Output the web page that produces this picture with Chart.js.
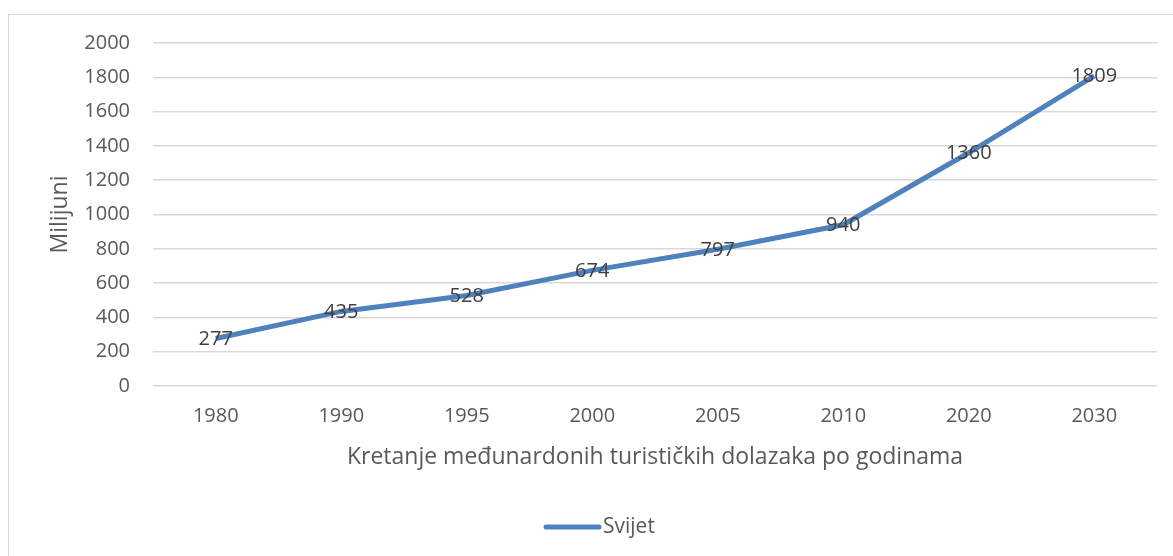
<!DOCTYPE html>
<html>
<head>
<meta charset="utf-8">
<script src="https://cdn.jsdelivr.net/npm/chart.js@4"></script>
<style>
    html, body { margin: 0; padding: 0; background: #fff; overflow: hidden; }
    #wrap { position: relative; width: 1173px; height: 556px; }
    #frame { position: absolute; left: 8px; top: 14px; width: 1200px; height: 600px; border: 1.5px solid #d9d9d9; box-sizing: border-box; }
    canvas { position: absolute; left: 0; top: 0; }
</style>
</head>
<body>
<div id="wrap">
    <div id="frame"></div>
    <canvas id="chart" width="1173" height="556"></canvas>
</div>
<script>
const years = ["1980", "1990", "1995", "2000", "2005", "2010", "2020", "2030"];
const arrivals = [277, 435, 528, 674, 797, 940, 1360, 1809];
const seriesName = "Svijet";
const yTitle = "Milijuni";
const xTitle = "Kretanje međunardonih turističkih dolazaka po godinama";

const colors = {
    line: "#4f81bd",
    grid: "#d9d9d9",
    tick: "#595959",
    label: "#404040",
};
const fontFamily = "'Open Sans', sans-serif";

// labels on points + axis titles + legend
const extras = {
    id: "extras",
    afterDatasetsDraw(chart) {
	const ctx = chart.ctx;
	const meta = chart.getDatasetMeta(0);
	ctx.save();
	ctx.font = "20px " + fontFamily;
	ctx.fillStyle = colors.label;
	ctx.textAlign = "center";
	ctx.textBaseline = "middle";
	meta.data.forEach((pt, i) => {
	    ctx.fillText(String(arrivals[i]), pt.x, pt.y + 1);
	});
	ctx.restore();
    },
    afterDraw(chart) {
	const ctx = chart.ctx;
	const area = chart.chartArea;
	ctx.save();
	ctx.fillStyle = colors.tick;
	ctx.textAlign = "center";
	ctx.textBaseline = "middle";

	ctx.font = "23px " + fontFamily;
	ctx.fillText(xTitle, (area.left + area.right) / 2, 457);

	ctx.save();
	ctx.translate(60, (area.top + area.bottom) / 2);
	ctx.rotate(-Math.PI / 2);
	ctx.fillText(yTitle, 0, 0);
	ctx.restore();

	// legend
	ctx.strokeStyle = colors.line;
	ctx.lineWidth = 5;
	ctx.lineCap = "round";
	ctx.beginPath();
	ctx.moveTo(546, 527);
	ctx.lineTo(599, 527);
	ctx.stroke();
	ctx.font = "21px " + fontFamily;
	ctx.textAlign = "left";
	ctx.fillText(seriesName, 603, 527);
	ctx.restore();
    }
};

Chart.defaults.font.family = fontFamily;

new Chart(document.getElementById("chart"), {
    type: "line",
    data: {
	labels: years,
	datasets: [{
	    label: seriesName,
	    data: arrivals,
	    borderColor: colors.line,
	    borderWidth: 5,
	    pointRadius: 0,
	    tension: 0,
	    fill: false,
	}]
    },
    options: {
	responsive: false,
	animation: false,
	layout: { padding: { left: 0, top: 43, right: 16, bottom: 0 } },
	plugins: {
	    legend: { display: false },
	    tooltip: { enabled: false },
	},
	scales: {
	    x: {
		offset: true,
		grid: { display: false, drawTicks: false },
		border: { display: false },
		ticks: { color: colors.tick, font: { size: 20 }, padding: 18, maxRotation: 0 },
		afterFit: (scale) => { scale.height = 170; },
	    },
	    y: {
		min: 0,
		max: 2000,
		grid: { color: colors.grid, lineWidth: 1.5, drawTicks: false },
		border: { display: false },
		ticks: {
		    stepSize: 200, color: colors.tick, font: { size: 20 }, padding: 23,
		    callback: (v) => String(v),
		},
		afterFit: (scale) => { scale.width = 153; },
	    }
	}
    },
    plugins: [extras],
});
</script>
</body>
</html>
